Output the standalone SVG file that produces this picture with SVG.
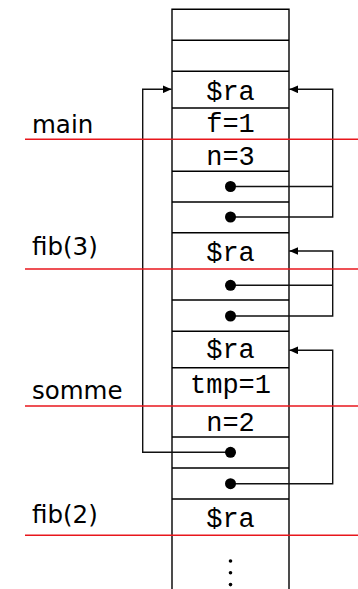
<svg xmlns="http://www.w3.org/2000/svg" width="358" height="589" viewBox="0 0 358 589">
<defs>
<style>
.cell{fill:none;stroke:#000;stroke-width:1.4}
.mono{font-family:"Liberation Mono","DejaVu Sans Mono",monospace;font-size:27px;text-anchor:middle;fill:#000}
.lbl{font-family:"DejaVu Sans","Liberation Sans",sans-serif;font-size:24.5px;fill:#000}
.sep{stroke:#e8161c;stroke-width:1.4}
.con{fill:none;stroke:#111;stroke-width:1.4}
.dot{fill:#000}
</style>
<marker id="ah" markerWidth="9" markerHeight="8" refX="9" refY="4" orient="auto" markerUnits="userSpaceOnUse">
<path d="M0,0 L9,4 L0,8 Z" fill="#000"/>
</marker>
</defs>
<rect width="358" height="589" fill="#fff"/>
<g id="stack">
<path class="cell" d="M172,589 V9.3 H289 V589"/>
<path class="cell" d="M172,40.3H289 M172,71.3H289 M172,108H289 M172,171.3H289 M172,202H289 M172,232.7H289 M172,300H289 M172,331.3H289 M172,367.7H289 M172,437H289 M172,468H289 M172,499H289"/>
</g>
<g id="cells">
<text class="mono" x="230.5" y="100">$ra</text>
<text class="mono" x="230.5" y="131.7">f=1</text>
<text class="mono" x="230.5" y="165">n=3</text>
<text class="mono" x="230.5" y="260.7">$ra</text>
<text class="mono" x="230.5" y="358.3">$ra</text>
<text class="mono" x="230.5" y="392.7">tmp=1</text>
<text class="mono" x="230.5" y="431">n=2</text>
<text class="mono" x="230.5" y="526.7">$ra</text>
<circle class="dot" cx="230.5" cy="561" r="1.8"/>
<circle class="dot" cx="230.5" cy="572.8" r="1.8"/>
<circle class="dot" cx="230.5" cy="584.6" r="1.8"/>
</g>
<g id="labels">
<text class="lbl" x="32" y="133">main</text>
<text class="lbl" x="32" y="255">fib(3)</text>
<text class="lbl" x="32" y="399">somme</text>
<text class="lbl" x="32" y="522.5">fib(2)</text>
</g>
<g id="connectors">
<path class="con" d="M230.5,186.5 H332.7 M230.5,217 H332.7 V89.3 H289.3" marker-end="url(#ah)"/>
<path class="con" d="M230.5,285.3 H332.7 M230.5,316 H332.7 V251 H289.3" marker-end="url(#ah)"/>
<path class="con" d="M230.5,483.7 H332.7 V350.3 H289.3" marker-end="url(#ah)"/>
<path class="con" d="M230.5,452.3 H142.7 V89.3 H171.5" marker-end="url(#ah)"/>
<circle class="dot" cx="230.5" cy="186.5" r="5.5"/>
<circle class="dot" cx="230.5" cy="217" r="5.5"/>
<circle class="dot" cx="230.5" cy="285.3" r="5.5"/>
<circle class="dot" cx="230.5" cy="316" r="5.5"/>
<circle class="dot" cx="230.5" cy="452.3" r="5.5"/>
<circle class="dot" cx="230.5" cy="483.7" r="5.5"/>
</g>
<g id="separators">
<line class="sep" x1="25" y1="139.3" x2="358" y2="139.3"/>
<line class="sep" x1="25" y1="269" x2="358" y2="269"/>
<line class="sep" x1="25" y1="406" x2="358" y2="406"/>
<line class="sep" x1="25" y1="535.3" x2="358" y2="535.3"/>
</g>
</svg>
